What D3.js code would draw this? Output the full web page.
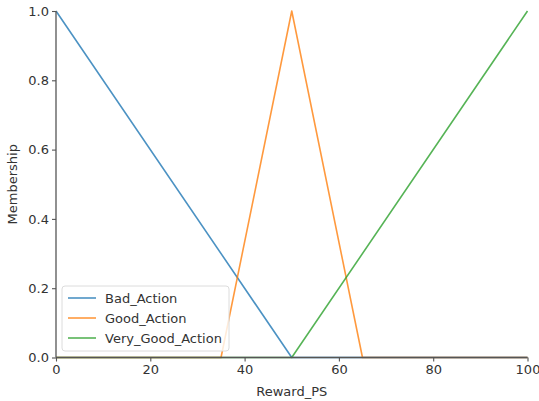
<!DOCTYPE html>
<html>
<head>
<meta charset="utf-8">
<script src="https://cdn.jsdelivr.net/npm/d3@7"></script>
<style>
  html, body { margin: 0; padding: 0; background: #fff; }
  svg { display: block; font-family: "DejaVu Sans", sans-serif; }
</style>
</head>
<body>
<svg id="chart" width="539" height="401"></svg>
<script>
// Triangular membership functions over the Reward_PS universe
const seriesNames = ["Bad_Action", "Good_Action", "Very_Good_Action"];
const seriesColors = ["#1f77b4", "#ff7f0e", "#2ca02c"];

const badX = [0, 50, 100];
const badY = [1, 0, 0];
const goodX = [0, 35, 50, 65, 100];
const goodY = [0, 0, 1, 0, 0];
const veryGoodX = [0, 50, 100];
const veryGoodY = [0, 0, 1];

const xTicks = [0, 20, 40, 60, 80, 100];
const yTicks = [0.0, 0.2, 0.4, 0.6, 0.8, 1.0];

const series = [
  { name: seriesNames[0], color: seriesColors[0], xs: badX, ys: badY },
  { name: seriesNames[1], color: seriesColors[1], xs: goodX, ys: goodY },
  { name: seriesNames[2], color: seriesColors[2], xs: veryGoodX, ys: veryGoodY }
];

const svg = d3.select("#chart");
const margin = { left: 56, right: 11.5, top: 11, bottom: 43.5 };
const W = 539, H = 401;

const x = d3.scaleLinear().domain([0, 100]).range([margin.left, W - margin.right]);
const y = d3.scaleLinear().domain([0, 1]).range([H - margin.bottom, margin.top]);

const axisColor = "#555";
const textColor = "#333";

// lines
const line = d3.line().x(d => x(d[0])).y(d => y(d[1]));
series.forEach(s => {
  const pts = s.xs.map((v, i) => [v, s.ys[i]]);
  svg.append("path")
    .attr("d", line(pts))
    .attr("fill", "none")
    .attr("stroke", s.color)
    .attr("stroke-opacity", 0.8)
    .attr("stroke-width", 1.6)
    .attr("stroke-linejoin", "round");
});

// axes
const xAxis = svg.append("g")
  .attr("transform", `translate(0,${y(0)})`)
  .call(d3.axisBottom(x).tickValues(xTicks).tickFormat(d3.format("d")).tickSize(4).tickPadding(3));
const yAxis = svg.append("g")
  .attr("transform", `translate(${x(0)},0)`)
  .call(d3.axisLeft(y).tickValues(yTicks).tickFormat(d3.format(".1f")).tickSize(4).tickPadding(3));

[xAxis, yAxis].forEach(g => {
  g.select(".domain").attr("stroke", axisColor).attr("stroke-width", 1.3);
  g.selectAll(".tick line").attr("stroke", axisColor).attr("stroke-width", 1.1);
  g.selectAll(".tick text")
    .attr("fill", textColor)
    .style("font-size", "13px")
    .style("font-family", "DejaVu Sans, sans-serif");
});
// keep the spine as a plain line without the outer tick caps
xAxis.select(".domain").attr("d", `M${x(0)},0H${x(100)}`);
yAxis.select(".domain").attr("d", `M0,${y(0)}V${y(1)}`);

// axis titles
svg.append("text")
  .attr("x", (x(0) + x(100)) / 2)
  .attr("y", 396)
  .attr("text-anchor", "middle")
  .attr("fill", textColor)
  .style("font-size", "13px")
  .text("Reward_PS");

svg.append("text")
  .attr("transform", `translate(17,${(y(0) + y(1)) / 2}) rotate(-90)`)
  .attr("text-anchor", "middle")
  .attr("fill", textColor)
  .style("font-size", "13px")
  .text("Membership");

// legend
const legend = svg.append("g").attr("transform", "translate(62,286)");
legend.append("rect")
  .attr("width", 167).attr("height", 65)
  .attr("rx", 3).attr("ry", 3)
  .attr("fill", "#fff").attr("fill-opacity", 0.8)
  .attr("stroke", "#dcdcdc").attr("stroke-width", 1);
series.forEach((s, i) => {
  const cy = 12 + i * 20;
  legend.append("line")
    .attr("x1", 6).attr("x2", 34).attr("y1", cy).attr("y2", cy)
    .attr("stroke", s.color).attr("stroke-opacity", 0.8).attr("stroke-width", 1.6);
  legend.append("text")
    .attr("x", 43).attr("y", cy)
    .attr("dy", "0.36em")
    .attr("fill", textColor)
    .style("font-size", "13px")
    .text(s.name);
});
</script>
</body>
</html>
